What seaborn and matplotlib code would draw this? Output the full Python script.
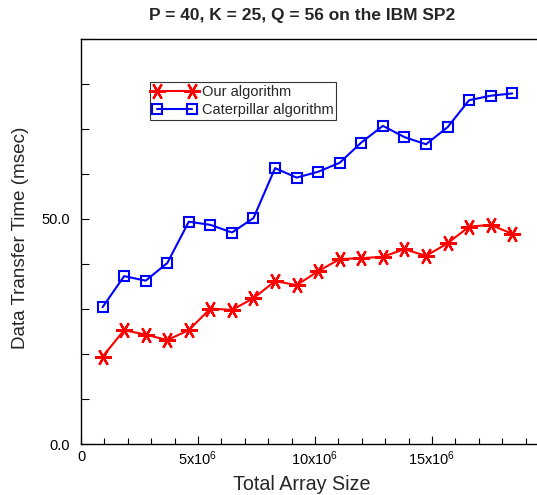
import matplotlib
matplotlib.use("Agg")
import matplotlib.pyplot as plt
import seaborn as sns
import numpy as np
import pandas as pd
from matplotlib.ticker import MultipleLocator, FixedLocator

array_sizes = [921600 * k for k in range(1, 21)]
our_alg = [19.4, 25.3, 24.3, 23.1, 25.3, 30.1, 29.8, 32.4, 36.2, 35.3,
           38.4, 41.1, 41.3, 41.6, 43.3, 41.8, 44.6, 48.3, 48.7, 46.7]
caterpillar = [30.4, 37.3, 36.3, 40.2, 49.4, 48.7, 47.0, 50.2, 61.3, 59.2,
               60.5, 62.5, 67.0, 70.7, 68.2, 66.6, 70.4, 76.4, 77.4, 77.9]
series_names = ["Our algorithm", "Caterpillar algorithm"]
x_tick_values = [0, 5e6, 10e6, 15e6]
x_tick_labels = ["0", "5x10$^{6}$", "10x10$^{6}$", "15x10$^{6}$"]
y_tick_values = [0, 50]
y_tick_labels = ["0.0", "50.0"]

sns.set_style("white")
plt.rcParams['font.family'] = ['Liberation Sans', 'DejaVu Sans']
plt.rcParams['mathtext.fontset'] = 'custom'
plt.rcParams['mathtext.rm'] = 'Liberation Sans'
plt.rcParams['mathtext.it'] = 'Liberation Sans'

fig = plt.figure(figsize=(5.37, 4.95), dpi=100)
ax = fig.add_axes([81/537, 51/495, 1 - 81/537, 405/495])

df = pd.DataFrame({
    "size": array_sizes * 2,
    "time": our_alg + caterpillar,
    "alg": [series_names[0]] * len(array_sizes) + [series_names[1]] * len(array_sizes),
})

sns.lineplot(data=df[df.alg == series_names[0]], x="size", y="time", ax=ax,
             color="#ff0000", marker=(6, 2, 30), markersize=12, markeredgewidth=1.6,
             markeredgecolor="#ff0000", linewidth=1.5, label=series_names[0])
sns.lineplot(data=df[df.alg == series_names[1]], x="size", y="time", ax=ax,
             color="#0000ff", marker="s", markersize=7, markerfacecolor="none",
             markeredgecolor="#0000ff", markeredgewidth=1.5, linewidth=1.5,
             label=series_names[1])

ax.set_xlim(0, 19.49e6)
ax.set_ylim(0, 90)
ax.xaxis.set_major_locator(FixedLocator(x_tick_values))
ax.set_xticklabels(x_tick_labels)
ax.xaxis.set_minor_locator(MultipleLocator(1e6))
ax.yaxis.set_major_locator(FixedLocator(y_tick_values))
ax.set_yticklabels(y_tick_labels)
ax.yaxis.set_minor_locator(MultipleLocator(10))
ax.tick_params(axis="both", which="both", direction="in", colors="black",
               labelsize=10.5, width=0.8)
ax.tick_params(axis="x", which="major", length=6, pad=4)
ax.tick_params(axis="x", which="minor", length=4)
ax.tick_params(axis="y", which="both", length=6, pad=8)
ax.tick_params(axis="both", which="both", bottom=True, left=True)

for s in ["left", "bottom", "top"]:
    ax.spines[s].set_visible(True)
    ax.spines[s].set_color("black")
    ax.spines[s].set_linewidth(1.0)
ax.spines["right"].set_visible(False)

ax.set_xlabel("Total Array Size", fontsize=14.2)
ax.set_ylabel("Data Transfer Time (msec)", fontsize=13.6)
ax.xaxis.set_label_coords((302 - 81) / 456, -31 / 405)
ax.yaxis.set_label_coords(-52 / 456, (444 - 237.5) / 405)
ax.set_title("P = 40, K = 25, Q = 56 on the IBM SP2", fontsize=12.5,
             fontweight="bold", pad=14, x=(302.5 - 81) / 456)

leg = ax.legend(loc="upper left", bbox_to_anchor=(69/456, 1 - 43/405),
                frameon=True, fancybox=False, edgecolor="black", fontsize=10.5,
                handlelength=3, handletextpad=0.35, borderpad=0.2,
                labelspacing=0.3, borderaxespad=0, numpoints=2)
leg.get_frame().set_linewidth(0.8)

fig.savefig("out.png", dpi=100)
